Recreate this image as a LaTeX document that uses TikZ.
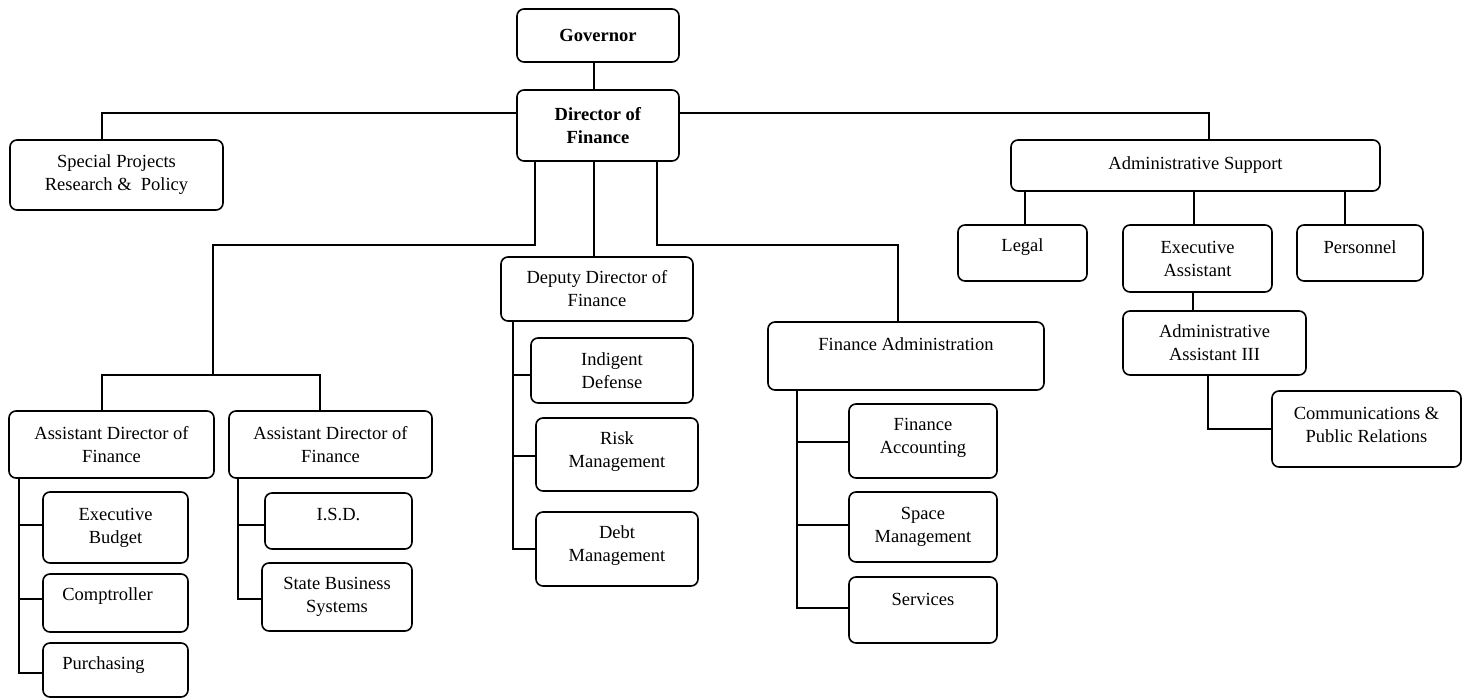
\documentclass[tikz,border=0pt]{standalone}
\usepackage{fontspec}
\setmainfont{Liberation Serif}
\usetikzlibrary{calc}
\tikzset{
  box/.style={draw, line width=1.6pt, rounded corners=7pt, inner sep=0pt, outer sep=0pt, align=center, font=\fontsize{18.5}{23}\selectfont},
  lbl/.style={font=\fontsize{18.5}{23}\selectfont, align=center, inner sep=0pt},
  conn/.style={line width=1.8pt}
}
% \obox{name}{x1}{y1}{x2}{y2}{extra options}{text}
\newcommand{\obox}[7]{%
  \node[box, minimum width={#4pt-#2pt}, minimum height={#5pt-#3pt}, #6] (#1) at ({(#2+#4)/2},{(#3+#5)/2}) {#7};}
\begin{document}
\begin{tikzpicture}[x=1pt, y=-1pt]
\useasboundingbox (0,0) rectangle (1468,700);
% top
\obox{gov}{517}{9}{679}{62}{}{\textbf{Governor}}
\obox{dir}{517}{90}{679}{161}{}{\textbf{Director of}\\\textbf{Finance}}
\obox{spec}{10}{140}{223}{210}{}{Special Projects\\Research \&\ \ Policy}
\obox{adm}{1011}{140}{1380}{191}{}{Administrative Support}
% admin support branch
\obox{legal}{958}{225}{1087}{281}{label={[lbl,yshift=6pt]center:Legal}}{}
\obox{exa}{1123}{225}{1272}{292}{}{Executive\\Assistant}
\obox{pers}{1297}{225}{1423}{281}{label={[lbl,yshift=6pt]center:Personnel}}{}
\obox{aa3}{1123}{311}{1306}{375}{}{Administrative\\Assistant III}
\obox{comm}{1272}{391}{1461}{467}{label={[lbl,yshift=4pt]center:{Communications \&\\Public Relations}}}{}
% assistant directors
\obox{ad1}{9}{411}{214}{478}{}{Assistant Director of\\Finance}
\obox{ad2}{229}{411}{432}{478}{}{Assistant Director of\\Finance}
\obox{eb}{43}{492}{188}{563}{}{Executive\\Budget}
\obox{comp}{43}{574}{188}{632}{label={[lbl,yshift=7pt,xshift=-8pt]center:Comptroller}}{}
\obox{purch}{43}{643}{188}{697}{label={[lbl,yshift=5pt,xshift=-12pt]center:Purchasing}}{}
\obox{isd}{265}{493}{412}{549}{label={[lbl,yshift=6pt]center:I.S.D.}}{}
\obox{sbs}{262}{563}{412}{631}{}{State Business\\Systems}
% deputy
\obox{dep}{501}{257}{693}{321}{}{Deputy Director of\\Finance}
\obox{ind}{531}{338}{693}{403}{}{Indigent\\Defense}
\obox{risk}{536}{418}{698}{491}{label={[lbl,yshift=3pt]center:{Risk\\Management}}}{}
\obox{debt}{536}{512}{698}{586}{label={[lbl,yshift=3pt]center:{Debt\\Management}}}{}
% finance administration
\obox{fadm}{768}{322}{1044}{390}{label={[lbl,yshift=12pt]center:Finance Administration}}{}
\obox{facc}{849}{404}{997}{478}{label={[lbl,yshift=3pt]center:{Finance\\Accounting}}}{}
\obox{space}{849}{492}{997}{562}{}{Space\\Management}
\obox{serv}{849}{577}{997}{643}{label={[lbl,yshift=11pt]center:Services}}{}
% connectors
\coordinate (ja) at (213,375);
\draw[conn] ([xshift=-4pt]gov.south) -- ([xshift=-4pt]dir.north);
\draw[conn] ([yshift=12.5pt]dir.west) -| ([xshift=-14.5pt]spec.north);
\draw[conn] ([yshift=12.5pt]dir.east) -| ([xshift=13.5pt]adm.north);
\draw[conn] ([xshift=2.5pt]legal.north) -- ([xshift=2.5pt]legal.north |- adm.south);
\draw[conn] ([xshift=-3.5pt]exa.north) -- ([xshift=-3.5pt]exa.north |- adm.south);
\draw[conn] ([xshift=-15pt]pers.north) -- ([xshift=-15pt]pers.north |- adm.south);
\draw[conn] ([xshift=-4.5pt]exa.south) -- ([xshift=-4.5pt]exa.south |- aa3.north);
\draw[conn] ([xshift=-6.5pt]aa3.south) |- (comm.west);
\draw[conn] ([xshift=18pt]dir.south west) -- ++(0,84) -| (ja);
\draw[conn] ([xshift=-9.5pt]ad1.north) |- (ja) -| ([xshift=-10.5pt]ad2.north);
\draw[conn] ([xshift=-4pt]dir.south) -- ([xshift=-4pt]dir.south |- dep.north);
\draw[conn] ([xshift=-22pt]dir.south east) -- ++(0,84) -| ([xshift=-8pt]fadm.north);
% assistant 1 children
\draw[conn] ([xshift=10pt]ad1.south west) |- ([yshift=-3pt]purch.west);
\draw[conn] ([yshift=2.5pt]eb.west) -- +(-24,0);
\draw[conn] ([yshift=4pt]comp.west) -- +(-24,0);
% assistant 2 children
\draw[conn] ([xshift=9pt]ad2.south west) |- ([yshift=-2pt]sbs.west);
\draw[conn] ([yshift=-4pt]isd.west) -- +(-27,0);
% deputy children
\draw[conn] ([xshift=12pt]dep.south west) |- (debt.west);
\draw[conn] ([yshift=-4.5pt]ind.west) -- +(-18,0);
\draw[conn] ([yshift=-1.5pt]risk.west) -- +(-23,0);
% finance admin children
\draw[conn] ([xshift=29pt]fadm.south west) |- ([yshift=2pt]serv.west);
\draw[conn] ([yshift=-1pt]facc.west) -- +(-52,0);
\draw[conn] ([yshift=2pt]space.west) -- +(-52,0);
\end{tikzpicture}
\end{document}
